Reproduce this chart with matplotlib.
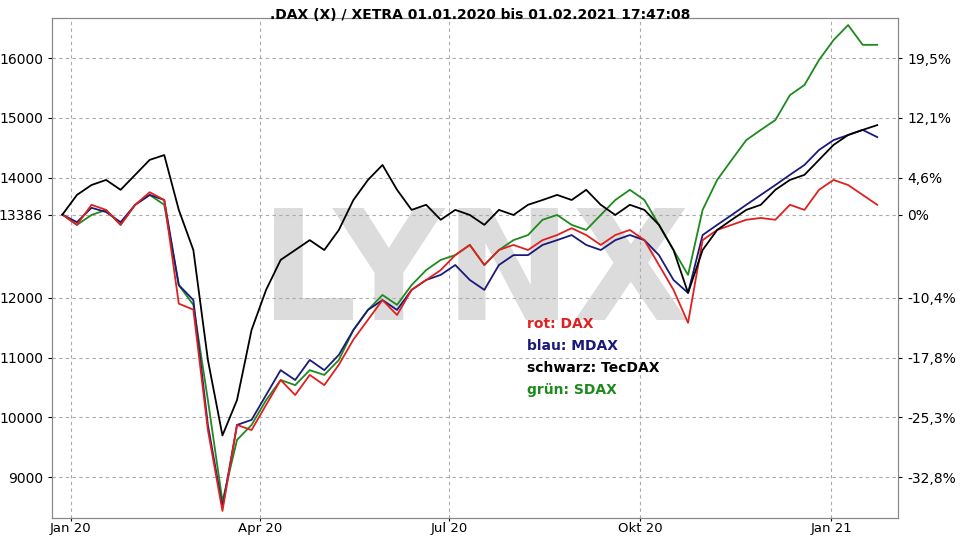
import matplotlib
matplotlib.use("Agg")
import matplotlib.pyplot as plt
import pandas as pd

dates = pd.date_range("2019-12-28", periods=57, freq="7D")
dax = [13386,13215,13550,13465,13215,13550,13760,13630,11900,11800,9790,8440,9875,9790,10210,10625,10375,10710,10540,10880,11300,11630,11960,11710,12130,12295,12460,12710,12880,12545,12795,12880,12795,12960,13045,13160,13045,12880,13045,13130,12960,12545,12130,11580,12960,13130,13215,13300,13330,13300,13550,13465,13800,13965,13880,13715,13550]
mdax = [13386,13260,13500,13430,13260,13550,13715,13630,12210,11960,9875,8500,9875,9960,10375,10790,10625,10960,10790,11045,11460,11795,11960,11795,12130,12295,12380,12545,12295,12130,12545,12710,12710,12880,12960,13045,12880,12795,12960,13045,12960,12710,12295,12080,13045,13215,13380,13550,13715,13880,14050,14215,14465,14630,14715,14800,14680]
tecdax = [13386,13715,13880,13965,13800,14050,14300,14380,13465,12795,10960,9700,10290,11460,12130,12630,12795,12960,12795,13130,13630,13965,14215,13800,13465,13550,13300,13465,13380,13215,13465,13380,13550,13630,13715,13630,13800,13550,13380,13550,13465,13215,12795,12080,12795,13130,13300,13465,13550,13800,13965,14050,14300,14550,14715,14800,14880]
sdax = [13386,13215,13380,13465,13215,13550,13715,13550,12210,11880,10290,8600,9625,9875,10290,10625,10540,10790,10710,10960,11460,11795,12045,11880,12210,12460,12630,12710,12880,12545,12795,12960,13045,13300,13380,13215,13130,13380,13630,13800,13630,13215,12795,12380,13465,13965,14300,14630,14800,14965,15380,15550,15967,16300,16550,16220,16220]

left_ticks = [16000, 15000, 14000, 13386, 12000, 11000, 10000, 9000]
right_labels = ["19,5%", "12,1%", "4,6%", "0%", "-10,4%", "-17,8%", "-25,3%", "-32,8%"]
xtick_dates = ["2020-01-01", "2020-04-01", "2020-07-01", "2020-10-01", "2021-01-01"]
xtick_labels = ["Jan 20", "Apr 20", "Jul 20", "Okt 20", "Jan 21"]

fig = plt.figure(figsize=(9.6, 5.4), dpi=100)
y_top, y_bot = 18, 518
ax = fig.add_axes([52/960, (540 - y_bot)/540, 846/960, (y_bot - y_top)/540])
ax.text(0.5, 0.48, "LYNX", transform=ax.transAxes, ha="center", va="center",
        fontsize=110, fontweight="bold", color="#dcdcdc", zorder=0)
kw = dict(lw=1.3, zorder=2)
ax.plot(dates, sdax, color="#1e8a1e", **kw)
ax.plot(dates, mdax, color="#1a1a7a", **kw)
ax.plot(dates, dax, color="#e02020", **kw)
ax.plot(dates, tecdax, color="black", **kw)

ax.set_xlim(pd.Timestamp("2019-12-23"), pd.Timestamp("2021-02-02"))
ax.set_ylim(8322, 16668)
ax.set_yticks(left_ticks)
ax.set_yticklabels([str(t) for t in left_ticks], fontsize=10)
ax.set_xticks(pd.to_datetime(xtick_dates))
ax.set_xticklabels(xtick_labels, fontsize=9.5)
ax.grid(True, color="#aaaaaa", ls=(0, (3, 3)), lw=0.8)
ax.tick_params(axis="y", length=3)
ax.tick_params(axis="x", length=2, pad=1)
ax2 = ax.twinx()
ax2.set_ylim(ax.get_ylim())
ax2.set_yticks(left_ticks)
ax2.set_yticklabels(right_labels, fontsize=10)
ax2.tick_params(length=3)
for a in (ax, ax2):
    for s in a.spines.values():
        s.set_color("#888888")

fig.text(0.5, 0.985, ".DAX (X) / XETRA 01.01.2020 bis 01.02.2021 17:47:08",
         ha="center", va="top", fontsize=10, fontweight="bold")
leg = [("rot: DAX", "#e02020"), ("blau: MDAX", "#1a1a7a"),
       ("schwarz: TecDAX", "black"), ("grün: SDAX", "#1e8a1e")]
for i, (t, c) in enumerate(leg):
    fig.text(527/960, 1 - (324 + 22*i)/540, t, color=c, fontsize=10,
             fontweight="bold", va="center")
fig.savefig("out.png", dpi=100)
